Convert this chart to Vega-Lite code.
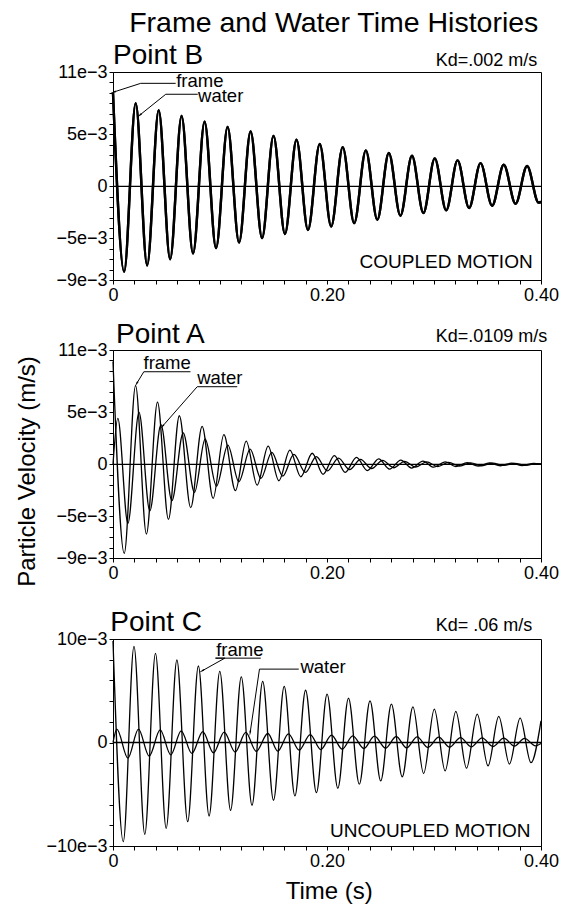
{
  "$schema": "https://vega.github.io/schema/vega-lite/v6.json",
  "background": "white",
  "padding": {"left": 14, "top": 8, "right": 5, "bottom": 5},
  "title": {"text": "Frame and Water Time Histories", "fontSize": 28.5, "font": "Liberation Sans", "fontWeight": "normal", "color": "#000", "anchor": "middle", "dx": 47, "offset": 4},
  "config": {
    "font": "Liberation Sans",
    "view": {"stroke": "#000", "strokeWidth": 1},
    "axis": {"grid": false, "domainColor": "#000", "domainWidth": 1, "tickColor": "#000", "tickWidth": 1, "tickSize": 4, "labelColor": "#000", "labelFontSize": 18, "labelFont": "Liberation Sans", "labelPadding": 2, "labelFlush": false, "labelOverlap": false, "titleColor": "#000", "titleFont": "Liberation Sans", "titleFontWeight": "normal", "titleFontSize": 24},
    "text": {"color": "#000", "font": "Liberation Sans"},
    "line": {"color": "#000"},
    "point": {"color": "#000"}
  },
  "datasets": {
    "B": [
      {"s":"frame","t":0,"v":0.0090},{"s":"frame","t":0.0104,"v":-0.0082},{"s":"frame","t":0.0212,"v":0.0080},{"s":"frame","t":0.0319,"v":-0.0076},{"s":"frame","t":0.0427,"v":0.00732},{"s":"frame","t":0.0534,"v":-0.0070},{"s":"frame","t":0.0641,"v":0.00677},{"s":"frame","t":0.0748,"v":-0.00645},{"s":"frame","t":0.0856,"v":0.00622},{"s":"frame","t":0.0963,"v":-0.00593},{"s":"frame","t":0.1071,"v":0.00572},{"s":"frame","t":0.1178,"v":-0.0054},{"s":"frame","t":0.1286,"v":0.00528},{"s":"frame","t":0.1393,"v":-0.00497},{"s":"frame","t":0.15,"v":0.00486},{"s":"frame","t":0.1607,"v":-0.00457},{"s":"frame","t":0.1715,"v":0.00448},{"s":"frame","t":0.1822,"v":-0.0042},{"s":"frame","t":0.1932,"v":0.00407},{"s":"frame","t":0.2039,"v":-0.00385},{"s":"frame","t":0.2147,"v":0.00378},{"s":"frame","t":0.2254,"v":-0.00353},{"s":"frame","t":0.2363,"v":0.00346},{"s":"frame","t":0.247,"v":-0.00321},{"s":"frame","t":0.2578,"v":0.00321},{"s":"frame","t":0.2686,"v":-0.00282},{"s":"frame","t":0.2794,"v":0.00295},{"s":"frame","t":0.2901,"v":-0.00256},{"s":"frame","t":0.3007,"v":0.00269},{"s":"frame","t":0.3114,"v":-0.00231},{"s":"frame","t":0.322,"v":0.0025},{"s":"frame","t":0.3328,"v":-0.00208},{"s":"frame","t":0.3435,"v":0.00224},{"s":"frame","t":0.3543,"v":-0.00186},{"s":"frame","t":0.3652,"v":0.00208},{"s":"frame","t":0.3762,"v":-0.00167},{"s":"frame","t":0.387,"v":0.00196},{"s":"frame","t":0.3977,"v":-0.00155},{"s":"frame","t":0.4,"v":-0.0015},
      {"s":"water","t":0,"v":0.0090},{"s":"water","t":0.0104,"v":-0.0082},{"s":"water","t":0.0212,"v":0.0080},{"s":"water","t":0.0319,"v":-0.0076},{"s":"water","t":0.0427,"v":0.00732},{"s":"water","t":0.0534,"v":-0.0070},{"s":"water","t":0.0641,"v":0.00677},{"s":"water","t":0.0748,"v":-0.00645},{"s":"water","t":0.0856,"v":0.00622},{"s":"water","t":0.0963,"v":-0.00593},{"s":"water","t":0.1071,"v":0.00572},{"s":"water","t":0.1178,"v":-0.0054},{"s":"water","t":0.1286,"v":0.00528},{"s":"water","t":0.1393,"v":-0.00497},{"s":"water","t":0.15,"v":0.00486},{"s":"water","t":0.1607,"v":-0.00457},{"s":"water","t":0.1715,"v":0.00448},{"s":"water","t":0.1822,"v":-0.0042},{"s":"water","t":0.1932,"v":0.00407},{"s":"water","t":0.2039,"v":-0.00385},{"s":"water","t":0.2147,"v":0.00378},{"s":"water","t":0.2254,"v":-0.00353},{"s":"water","t":0.2363,"v":0.00346},{"s":"water","t":0.247,"v":-0.00321},{"s":"water","t":0.2578,"v":0.00321},{"s":"water","t":0.2686,"v":-0.00282},{"s":"water","t":0.2794,"v":0.00295},{"s":"water","t":0.2901,"v":-0.00256},{"s":"water","t":0.3007,"v":0.00269},{"s":"water","t":0.3114,"v":-0.00231},{"s":"water","t":0.322,"v":0.0025},{"s":"water","t":0.3328,"v":-0.00208},{"s":"water","t":0.3435,"v":0.00224},{"s":"water","t":0.3543,"v":-0.00186},{"s":"water","t":0.3652,"v":0.00208},{"s":"water","t":0.3762,"v":-0.00167},{"s":"water","t":0.387,"v":0.00196},{"s":"water","t":0.3977,"v":-0.00155},{"s":"water","t":0.4,"v":-0.0015}
    ],
    "A": [
      {"s":"frame","t":0,"v":0.0099},{"s":"frame","t":0.0105,"v":-0.00856},{"s":"frame","t":0.0211,"v":0.00758},{"s":"frame","t":0.0312,"v":-0.00669},{"s":"frame","t":0.0416,"v":0.00598},{"s":"frame","t":0.0518,"v":-0.00529},{"s":"frame","t":0.062,"v":0.00468},{"s":"frame","t":0.0726,"v":-0.00416},{"s":"frame","t":0.0833,"v":0.00366},{"s":"frame","t":0.0936,"v":-0.00327},{"s":"frame","t":0.1036,"v":0.00286},{"s":"frame","t":0.1144,"v":-0.00253},{"s":"frame","t":0.1245,"v":0.00224},{"s":"frame","t":0.1347,"v":-0.00199},{"s":"frame","t":0.145,"v":0.00176},{"s":"frame","t":0.155,"v":-0.00157},{"s":"frame","t":0.1653,"v":0.00138},{"s":"frame","t":0.1755,"v":-0.00119},{"s":"frame","t":0.1862,"v":0.00107},{"s":"frame","t":0.1963,"v":-0.00095},{"s":"frame","t":0.2069,"v":0.00084},{"s":"frame","t":0.217,"v":-0.00076},{"s":"frame","t":0.2276,"v":0.00067},{"s":"frame","t":0.2377,"v":-0.0006},{"s":"frame","t":0.2483,"v":0.00054},{"s":"frame","t":0.2584,"v":-0.00046},{"s":"frame","t":0.269,"v":0.00042},{"s":"frame","t":0.2791,"v":-0.00035},{"s":"frame","t":0.2897,"v":0.00032},{"s":"frame","t":0.2998,"v":-0.00027},{"s":"frame","t":0.3104,"v":0.00024},{"s":"frame","t":0.3205,"v":-0.0002},{"s":"frame","t":0.3311,"v":0.00018},{"s":"frame","t":0.3412,"v":-0.00016},{"s":"frame","t":0.3518,"v":0.00014},{"s":"frame","t":0.3619,"v":-0.00013},{"s":"frame","t":0.3725,"v":0.00012},{"s":"frame","t":0.3826,"v":-0.00011},{"s":"frame","t":0.3932,"v":0.0001},{"s":"frame","t":0.4,"v":0.00002},
      {"s":"water","t":0,"v":0},{"s":"water","t":0.0045,"v":0.00442},{"s":"water","t":0.0139,"v":-0.00567},{"s":"water","t":0.0243,"v":0.005},{"s":"water","t":0.0344,"v":-0.00447},{"s":"water","t":0.0448,"v":0.00383},{"s":"water","t":0.055,"v":-0.00349},{"s":"water","t":0.0656,"v":0.00304},{"s":"water","t":0.0762,"v":-0.00269},{"s":"water","t":0.0861,"v":0.00244},{"s":"water","t":0.0967,"v":-0.00208},{"s":"water","t":0.1073,"v":0.00186},{"s":"water","t":0.1176,"v":-0.00167},{"s":"water","t":0.1282,"v":0.00147},{"s":"water","t":0.1382,"v":-0.00135},{"s":"water","t":0.1484,"v":0.00115},{"s":"water","t":0.1587,"v":-0.00112},{"s":"water","t":0.169,"v":0.00096},{"s":"water","t":0.1799,"v":-0.00077},{"s":"water","t":0.19,"v":0.00075},{"s":"water","t":0.2004,"v":-0.00062},{"s":"water","t":0.2107,"v":0.0006},{"s":"water","t":0.2211,"v":-0.0005},{"s":"water","t":0.2313,"v":0.00048},{"s":"water","t":0.2417,"v":-0.0004},{"s":"water","t":0.2519,"v":0.00038},{"s":"water","t":0.2623,"v":-0.00032},{"s":"water","t":0.2725,"v":0.0003},{"s":"water","t":0.2829,"v":-0.00025},{"s":"water","t":0.2931,"v":0.00024},{"s":"water","t":0.3035,"v":-0.0002},{"s":"water","t":0.3137,"v":0.00019},{"s":"water","t":0.3241,"v":-0.00016},{"s":"water","t":0.3343,"v":0.00015},{"s":"water","t":0.3447,"v":-0.00013},{"s":"water","t":0.3549,"v":0.00012},{"s":"water","t":0.3653,"v":-0.0001},{"s":"water","t":0.3755,"v":0.0001},{"s":"water","t":0.3859,"v":-0.00008},{"s":"water","t":0.3961,"v":0.00008},{"s":"water","t":0.4,"v":0.00005}
    ],
    "C": [
      {"s":"frame","t":0,"v":0.0098},{"s":"frame","t":0.0096,"v":-0.00958},{"s":"frame","t":0.0196,"v":0.00929},{"s":"frame","t":0.0297,"v":-0.00887},{"s":"frame","t":0.0397,"v":0.00861},{"s":"frame","t":0.0497,"v":-0.00829},{"s":"frame","t":0.0597,"v":0.00797},{"s":"frame","t":0.0698,"v":-0.00765},{"s":"frame","t":0.0798,"v":0.00739},{"s":"frame","t":0.0898,"v":-0.0071},{"s":"frame","t":0.0998,"v":0.00687},{"s":"frame","t":0.1099,"v":-0.00655},{"s":"frame","t":0.1199,"v":0.00635},{"s":"frame","t":0.1299,"v":-0.00606},{"s":"frame","t":0.1399,"v":0.0059},{"s":"frame","t":0.15,"v":-0.00558},{"s":"frame","t":0.16,"v":0.00542},{"s":"frame","t":0.17,"v":-0.00516},{"s":"frame","t":0.18,"v":0.00505},{"s":"frame","t":0.1901,"v":-0.00484},{"s":"frame","t":0.2001,"v":0.00468},{"s":"frame","t":0.2101,"v":-0.00442},{"s":"frame","t":0.2201,"v":0.00429},{"s":"frame","t":0.2302,"v":-0.00403},{"s":"frame","t":0.2402,"v":0.00403},{"s":"frame","t":0.2502,"v":-0.00371},{"s":"frame","t":0.2602,"v":0.00371},{"s":"frame","t":0.2703,"v":-0.00332},{"s":"frame","t":0.2803,"v":0.00345},{"s":"frame","t":0.2903,"v":-0.003},{"s":"frame","t":0.3003,"v":0.00323},{"s":"frame","t":0.3104,"v":-0.00274},{"s":"frame","t":0.3204,"v":0.003},{"s":"frame","t":0.3304,"v":-0.00248},{"s":"frame","t":0.3404,"v":0.00274},{"s":"frame","t":0.3505,"v":-0.00226},{"s":"frame","t":0.3605,"v":0.00252},{"s":"frame","t":0.3705,"v":-0.00208},{"s":"frame","t":0.3805,"v":0.00235},{"s":"frame","t":0.3906,"v":-0.00195},{"s":"frame","t":0.4,"v":0.0021},
      {"s":"water","t":0,"v":0},{"s":"water","t":0.0036,"v":0.00129},{"s":"water","t":0.0139,"v":-0.00151},{"s":"water","t":0.0238,"v":0.00129},{"s":"water","t":0.0338,"v":-0.00132},{"s":"water","t":0.0441,"v":0.00122},{"s":"water","t":0.054,"v":-0.00119},{"s":"water","t":0.0637,"v":0.00113},{"s":"water","t":0.0737,"v":-0.00106},{"s":"water","t":0.0839,"v":0.00106},{"s":"water","t":0.0939,"v":-0.001},{"s":"water","t":0.1039,"v":0.001},{"s":"water","t":0.1142,"v":-0.00093},{"s":"water","t":0.1241,"v":0.00097},{"s":"water","t":0.1338,"v":-0.00085},{"s":"water","t":0.1447,"v":0.00087},{"s":"water","t":0.154,"v":-0.00084},{"s":"water","t":0.164,"v":0.00084},{"s":"water","t":0.174,"v":-0.00074},{"s":"water","t":0.1843,"v":0.00077},{"s":"water","t":0.1942,"v":-0.00068},{"s":"water","t":0.2042,"v":0.00071},{"s":"water","t":0.2142,"v":-0.00064},{"s":"water","t":0.2241,"v":0.00064},{"s":"water","t":0.2344,"v":-0.00058},{"s":"water","t":0.2444,"v":0.00061},{"s":"water","t":0.2547,"v":-0.00055},{"s":"water","t":0.2647,"v":0.00058},{"s":"water","t":0.2743,"v":-0.00052},{"s":"water","t":0.2843,"v":0.00055},{"s":"water","t":0.2942,"v":-0.00048},{"s":"water","t":0.3045,"v":0.00052},{"s":"water","t":0.3145,"v":-0.00045},{"s":"water","t":0.3248,"v":0.00048},{"s":"water","t":0.3348,"v":-0.00042},{"s":"water","t":0.345,"v":0.00045},{"s":"water","t":0.355,"v":-0.00039},{"s":"water","t":0.3652,"v":0.00042},{"s":"water","t":0.3752,"v":-0.00035},{"s":"water","t":0.3846,"v":0.00039},{"s":"water","t":0.3949,"v":-0.00032},{"s":"water","t":0.4,"v":-0.0001}
    ],
    "zero": [{"t":0,"v":0},{"t":0.4,"v":0}],
    "lead": [
      {"panel":"B","label":"frame","i":0,"t":0.0009,"v":0.00908},{"panel":"B","label":"frame","i":1,"t":0.0259,"v":0.00991},{"panel":"B","label":"frame","i":2,"t":0.0586,"v":0.00991},
      {"panel":"B","label":"water","i":0,"t":0.0252,"v":0.00687},{"panel":"B","label":"water","i":1,"t":0.0493,"v":0.00886},{"panel":"B","label":"water","i":2,"t":0.0792,"v":0.00886},
      {"panel":"A","label":"frame","i":0,"t":0.0222,"v":0.00779},{"panel":"A","label":"frame","i":1,"t":0.0288,"v":0.00891},{"panel":"A","label":"frame","i":2,"t":0.0724,"v":0.00891},
      {"panel":"A","label":"water","i":0,"t":0.0463,"v":0.00367},{"panel":"A","label":"water","i":1,"t":0.0787,"v":0.00747},{"panel":"A","label":"water","i":2,"t":0.1161,"v":0.00747},
      {"panel":"C","label":"frame","i":0,"t":0.0834,"v":0.00693},{"panel":"C","label":"frame","i":1,"t":0.1045,"v":0.00815},{"panel":"C","label":"frame","i":2,"t":0.0958,"v":0.00815},{"panel":"C","label":"frame","i":3,"t":0.1381,"v":0.00815},
      {"panel":"C","label":"water","i":0,"t":0.1282,"v":0.00097},{"panel":"C","label":"water","i":1,"t":0.1369,"v":0.00709},{"panel":"C","label":"water","i":2,"t":0.1736,"v":0.00709}
    ],
    "labels": [
      {"panel":"B","kind":"point","t":0,"v":0.01177,"text":"Point B"},
      {"panel":"B","kind":"kd","t":0.3965,"v":0.01158,"text":"Kd=.002 m/s"},
      {"panel":"B","kind":"motion","t":0.3922,"v":-0.00785,"text":"COUPLED MOTION"},
      {"panel":"B","kind":"curve","t":0.059,"v":0.00951,"text":"frame"},
      {"panel":"B","kind":"curve","t":0.0795,"v":0.00814,"text":"water"},
      {"panel":"A","kind":"point","t":0.0028,"v":0.01163,"text":"Point A"},
      {"panel":"A","kind":"kd","t":0.4058,"v":0.01173,"text":"Kd=.0109 m/s"},
      {"panel":"A","kind":"curve","t":0.0285,"v":0.00913,"text":"frame"},
      {"panel":"A","kind":"curve","t":0.0787,"v":0.00773,"text":"water"},
      {"panel":"C","kind":"point","t":-0.0026,"v":0.01079,"text":"Point C"},
      {"panel":"C","kind":"kd","t":0.3918,"v":0.01079,"text":"Kd= .06 m/s"},
      {"panel":"C","kind":"motion","t":0.3902,"v":-0.00911,"text":"UNCOUPLED MOTION"},
      {"panel":"C","kind":"curve","t":0.0964,"v":0.00838,"text":"frame"},
      {"panel":"C","kind":"curve","t":0.1752,"v":0.00676,"text":"water"}
    ]
  },
  "bounds": "flush",
  "spacing": 0,
  "vconcat": [
    {
      "width": 428, "height": 208,
      "encoding": {
        "x": {"field": "t", "type": "quantitative", "scale": {"domain": [0, 0.4], "nice": false, "zero": false}, "axis": {"title": null, "values": [0,0.02,0.04,0.06,0.08,0.1,0.12,0.14,0.16,0.18,0.2,0.22,0.24,0.26,0.28,0.3,0.32,0.34,0.36,0.38,0.4], "labelExpr": "abs(datum.value) < 1e-6 ? '0' : (abs(datum.value - 0.2) < 1e-6 ? '0.20' : (abs(datum.value - 0.4) < 1e-6 ? '0.40' : ''))"}},
        "y": {"field": "v", "type": "quantitative", "scale": {"domain": [-0.009, 0.011], "nice": false, "zero": false}, "axis": {"title": null, "values": [-0.009,-0.008,-0.007,-0.006,-0.005,-0.004,-0.003,-0.002,-0.001,0,0.001,0.002,0.003,0.004,0.005,0.006,0.007,0.008,0.009,0.01,0.011], "labelExpr": "indexof([11,5,-5,-9], round(datum.value*1000)) >= 0 ? (datum.value < 0 ? '−' : '') + abs(round(datum.value*1000)) + 'e−3' : (round(datum.value*1000) == 0 ? '0' : '')"}}
      },
      "layer": [
        {"data": {"name": "zero"}, "mark": {"type": "line", "color": "#000", "strokeWidth": 1.3}},
        {"data": {"name": "B"}, "mark": {"type": "line", "interpolate": "monotone", "color": "#000", "strokeWidth": 2.4}, "encoding": {"detail": {"field": "s"}}},
        {"data": {"name": "lead"}, "transform": [{"filter": "datum.panel == 'B'"}], "mark": {"type": "line", "color": "#000", "strokeWidth": 1}, "encoding": {"detail": {"field": "label"}, "order": {"field": "i", "type": "quantitative"}}},
        {"data": {"name": "lead"}, "transform": [{"filter": "datum.panel == 'B' && datum.i == 0"}], "mark": {"type": "point", "shape": "wedge", "filled": true, "color": "#000", "size": 45, "opacity": 1}, "encoding": {"angle": {"condition": {"test": "datum.label == 'frame'", "value": 252}, "value": 231}}},
        {"data": {"name": "labels"}, "transform": [{"filter": "datum.panel == 'B' && datum.kind == 'point'"}], "mark": {"type": "text", "align": "left", "baseline": "alphabetic", "fontSize": 28}, "encoding": {"text": {"field": "text"}}},
        {"data": {"name": "labels"}, "transform": [{"filter": "datum.panel == 'B' && datum.kind == 'kd'"}], "mark": {"type": "text", "align": "right", "baseline": "alphabetic", "fontSize": 18}, "encoding": {"text": {"field": "text"}}},
        {"data": {"name": "labels"}, "transform": [{"filter": "datum.panel == 'B' && datum.kind == 'motion'"}], "mark": {"type": "text", "align": "right", "baseline": "alphabetic", "fontSize": 19}, "encoding": {"text": {"field": "text"}}},
        {"data": {"name": "labels"}, "transform": [{"filter": "datum.panel == 'B' && datum.kind == 'curve'"}], "mark": {"type": "text", "align": "left", "baseline": "alphabetic", "fontSize": 18.5}, "encoding": {"text": {"field": "text"}}}
      ]
    },
    {
      "width": 428, "height": 70,
      "view": {"stroke": null},
      "data": {"values": [{}]},
      "mark": {"type": "text", "text": ""}
    },
    {
      "width": 428, "height": 208,
      "encoding": {
        "x": {"field": "t", "type": "quantitative", "scale": {"domain": [0, 0.4], "nice": false, "zero": false}, "axis": {"title": null, "values": [0,0.02,0.04,0.06,0.08,0.1,0.12,0.14,0.16,0.18,0.2,0.22,0.24,0.26,0.28,0.3,0.32,0.34,0.36,0.38,0.4], "labelExpr": "abs(datum.value) < 1e-6 ? '0' : (abs(datum.value - 0.2) < 1e-6 ? '0.20' : (abs(datum.value - 0.4) < 1e-6 ? '0.40' : ''))"}},
        "y": {"field": "v", "type": "quantitative", "scale": {"domain": [-0.009, 0.011], "nice": false, "zero": false}, "axis": {"title": "Particle Velocity (m/s)", "titleX": -79, "titleY": 121, "titleAngle": 270, "titleAlign": "center", "titleBaseline": "alphabetic", "values": [-0.009,-0.008,-0.007,-0.006,-0.005,-0.004,-0.003,-0.002,-0.001,0,0.001,0.002,0.003,0.004,0.005,0.006,0.007,0.008,0.009,0.01,0.011], "labelExpr": "indexof([11,5,-5,-9], round(datum.value*1000)) >= 0 ? (datum.value < 0 ? '−' : '') + abs(round(datum.value*1000)) + 'e−3' : (round(datum.value*1000) == 0 ? '0' : '')"}}
      },
      "layer": [
        {"data": {"name": "zero"}, "mark": {"type": "line", "color": "#000", "strokeWidth": 1.3}},
        {"data": {"name": "A"}, "mark": {"type": "line", "interpolate": "monotone", "color": "#000", "strokeWidth": 1.3}, "encoding": {"detail": {"field": "s"}}},
        {"data": {"name": "lead"}, "transform": [{"filter": "datum.panel == 'A'"}], "mark": {"type": "line", "color": "#000", "strokeWidth": 1}, "encoding": {"detail": {"field": "label"}, "order": {"field": "i", "type": "quantitative"}}},
        {"data": {"name": "lead"}, "transform": [{"filter": "datum.panel == 'A' && datum.i == 0"}], "mark": {"type": "point", "shape": "wedge", "filled": true, "color": "#000", "size": 45, "opacity": 1}, "encoding": {"angle": {"condition": {"test": "datum.label == 'frame'", "value": 211}, "value": 221}}},
        {"data": {"name": "labels"}, "transform": [{"filter": "datum.panel == 'A' && datum.kind == 'point'"}], "mark": {"type": "text", "align": "left", "baseline": "alphabetic", "fontSize": 28}, "encoding": {"text": {"field": "text"}}},
        {"data": {"name": "labels"}, "transform": [{"filter": "datum.panel == 'A' && datum.kind == 'kd'"}], "mark": {"type": "text", "align": "right", "baseline": "alphabetic", "fontSize": 18}, "encoding": {"text": {"field": "text"}}},
        {"data": {"name": "labels"}, "transform": [{"filter": "datum.panel == 'A' && datum.kind == 'curve'"}], "mark": {"type": "text", "align": "left", "baseline": "alphabetic", "fontSize": 18.5}, "encoding": {"text": {"field": "text"}}}
      ]
    },
    {
      "width": 428, "height": 81,
      "view": {"stroke": null},
      "data": {"values": [{}]},
      "mark": {"type": "text", "text": ""}
    },
    {
      "width": 428, "height": 207,
      "encoding": {
        "x": {"field": "t", "type": "quantitative", "scale": {"domain": [0, 0.4], "nice": false, "zero": false}, "axis": {"title": "Time (s)", "titleX": 215.7, "titleY": 52, "titleAlign": "center", "titleBaseline": "alphabetic", "values": [0,0.02,0.04,0.06,0.08,0.1,0.12,0.14,0.16,0.18,0.2,0.22,0.24,0.26,0.28,0.3,0.32,0.34,0.36,0.38,0.4], "labelExpr": "abs(datum.value) < 1e-6 ? '0' : (abs(datum.value - 0.2) < 1e-6 ? '0.20' : (abs(datum.value - 0.4) < 1e-6 ? '0.40' : ''))"}},
        "y": {"field": "v", "type": "quantitative", "scale": {"domain": [-0.01, 0.01], "nice": false, "zero": false}, "axis": {"title": null, "values": [-0.01,-0.008,-0.006,-0.004,-0.002,0,0.002,0.004,0.006,0.008,0.01], "labelExpr": "indexof([10,-10], round(datum.value*1000)) >= 0 ? (datum.value < 0 ? '−' : '') + abs(round(datum.value*1000)) + 'e−3' : (round(datum.value*1000) == 0 ? '0' : '')"}}
      },
      "layer": [
        {"data": {"name": "zero"}, "mark": {"type": "line", "color": "#000", "strokeWidth": 1.3}},
        {"data": {"name": "C"}, "mark": {"type": "line", "interpolate": "monotone", "color": "#000", "strokeWidth": 1.3}, "encoding": {"detail": {"field": "s"}}},
        {"data": {"name": "lead"}, "transform": [{"filter": "datum.panel == 'C'"}], "mark": {"type": "line", "color": "#000", "strokeWidth": 1}, "encoding": {"detail": {"field": "label"}, "order": {"field": "i", "type": "quantitative"}}},
        {"data": {"name": "lead"}, "transform": [{"filter": "datum.panel == 'C' && datum.i == 0"}], "mark": {"type": "point", "shape": "wedge", "filled": true, "color": "#000", "size": 45, "opacity": 1}, "encoding": {"angle": {"condition": {"test": "datum.label == 'frame'", "value": 241}, "value": 188}}},
        {"data": {"name": "labels"}, "transform": [{"filter": "datum.panel == 'C' && datum.kind == 'point'"}], "mark": {"type": "text", "align": "left", "baseline": "alphabetic", "fontSize": 28}, "encoding": {"text": {"field": "text"}}},
        {"data": {"name": "labels"}, "transform": [{"filter": "datum.panel == 'C' && datum.kind == 'kd'"}], "mark": {"type": "text", "align": "right", "baseline": "alphabetic", "fontSize": 18}, "encoding": {"text": {"field": "text"}}},
        {"data": {"name": "labels"}, "transform": [{"filter": "datum.panel == 'C' && datum.kind == 'motion'"}], "mark": {"type": "text", "align": "right", "baseline": "alphabetic", "fontSize": 19}, "encoding": {"text": {"field": "text"}}},
        {"data": {"name": "labels"}, "transform": [{"filter": "datum.panel == 'C' && datum.kind == 'curve'"}], "mark": {"type": "text", "align": "left", "baseline": "alphabetic", "fontSize": 18.5}, "encoding": {"text": {"field": "text"}}}
      ]
    }
  ]
}
